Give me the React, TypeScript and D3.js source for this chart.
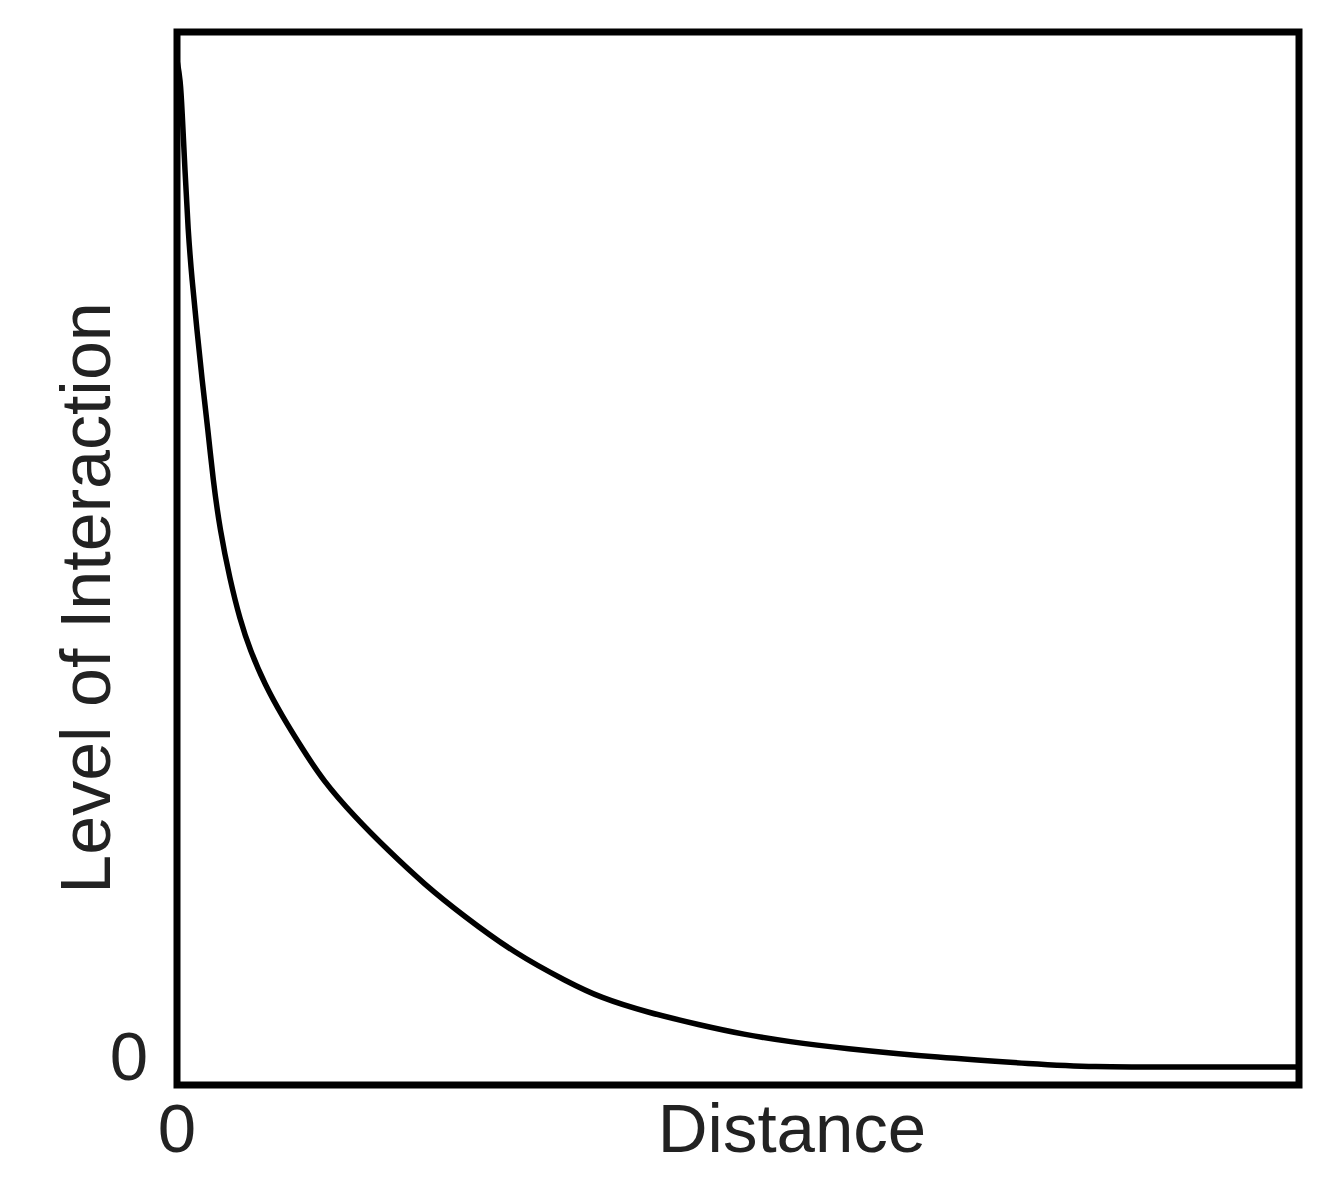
import React from "react";
import * as d3 from "d3";

// Distance (0–100 relative units) and level of interaction (0–100 relative units)
const distance = [0, 0.3, 0.45, 0.71, 0.98, 1.34, 1.78, 2.23, 2.76, 3.21, 3.83, 4.72, 5.61, 6.51, 7.84, 9.45, 10.96, 13.0, 15.9, 18.7, 22.1, 25.5, 30.1, 34.8, 37.7, 41.9, 46.6, 50.5, 54.6, 59.2, 67.8, 76.5, 81.2, 90, 100];
const interaction = [97.3, 95.5, 92.6, 86.9, 81.2, 76.4, 71.7, 67.0, 62.2, 57.5, 52.7, 48.0, 44.2, 41.3, 38.0, 34.9, 32.3, 28.9, 25.4, 22.4, 19.0, 16.1, 12.5, 9.8, 8.3, 6.9, 5.7, 4.8, 4.1, 3.5, 2.6, 2.0, 1.7, 1.7, 1.7];
const xTickLabel = "0";
const yTickLabel = "0";
const xTitle = "Distance";
const yTitle = "Level of Interaction";

export default function App() {
  const W = 1318, H = 1200;
  const left = 177, right = 1299, top = 32, bottom = 1085;
  const x = d3.scaleLinear().domain([0, 100]).range([left, right]);
  const y = d3.scaleLinear().domain([0, 100]).range([bottom, top]);
  const pts: [number, number][] = distance.map((d, i) => [d, interaction[i]]);
  const line = d3
    .line<[number, number]>()
    .x((d) => x(d[0]))
    .y((d) => y(d[1]))
    .curve(d3.curveBasis);
  const font = "'Liberation Sans', Arial, Helvetica, sans-serif";
  const textColor = "#222";
  return (
    <svg
      width={W}
      height={H}
      style={{ position: "absolute", left: 0, top: 0, display: "block", background: "#fff" }}
    >
      <rect x={0} y={0} width={W} height={H} fill="#fff" />
      <path d={line(pts) || ""} fill="none" stroke="#000" strokeWidth={5.5} strokeLinejoin="round" />
      <rect
        x={left}
        y={top}
        width={right - left}
        height={bottom - top}
        fill="none"
        stroke="#000"
        strokeWidth={7}
      />
      <text x={x(0)} y={1152} textAnchor="middle" fontFamily={font} fontSize={69} fill={textColor}>
        {xTickLabel}
      </text>
      <text x={148} y={1080} textAnchor="end" fontFamily={font} fontSize={69} fill={textColor}>
        {yTickLabel}
      </text>
      <text x={792} y={1152} textAnchor="middle" fontFamily={font} fontSize={69} fill={textColor}>
        {xTitle}
      </text>
      <text
        transform={`translate(110,598) rotate(-90)`}
        textAnchor="middle"
        fontFamily={font}
        fontSize={70}
        fill={textColor}
      >
        {yTitle}
      </text>
    </svg>
  );
}
